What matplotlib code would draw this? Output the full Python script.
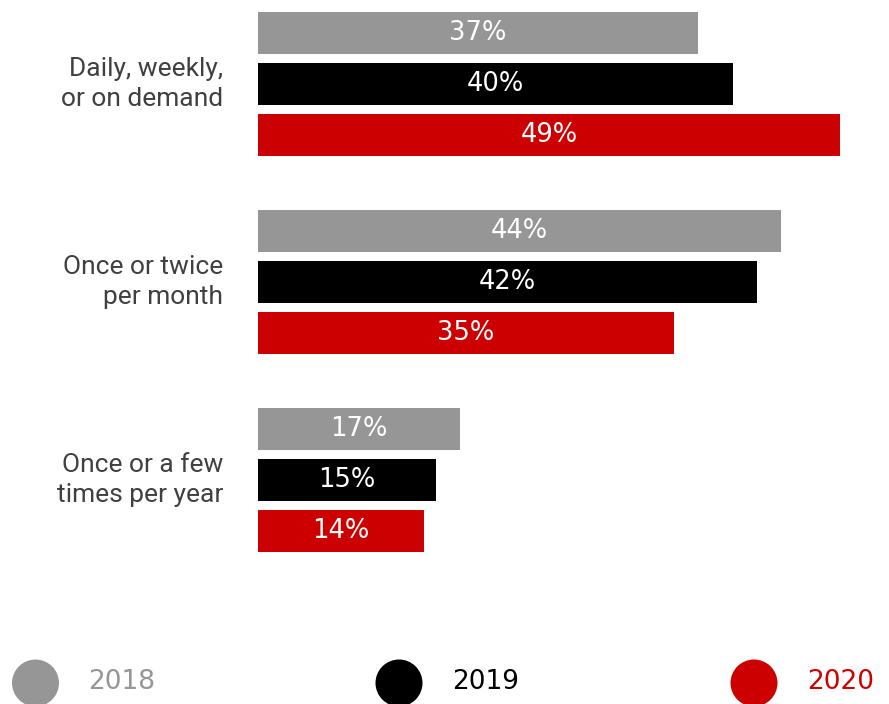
import matplotlib
matplotlib.use("Agg")
import matplotlib.pyplot as plt
from matplotlib.patches import Circle

categories = ["Daily, weekly,\nor on demand", "Once or twice\nper month", "Once or a few\ntimes per year"]
years = ["2018", "2019", "2020"]
values_2018 = [37, 44, 17]
values_2019 = [40, 42, 15]
values_2020 = [49, 35, 14]
series = [values_2018, values_2019, values_2020]
colors = ["#969696", "#000000", "#cc0000"]

W, H = 889, 704
fig = plt.figure(figsize=(W / 100, H / 100), dpi=100)
fig.patch.set_facecolor("white")

# Axes from the bar baseline to the right edge, full height
left_px = 258
ax = fig.add_axes([left_px / W, 0, 1 - left_px / W, 1])
ax.set_xlim(0, (W - left_px) / 11.88)
ax.set_ylim(3.131, -0.4242)
ax.axis("off")

offset = 51 / 198
height = 42 / 198
label_font = ["DejaVu Sans"]
for k, (vals, col) in enumerate(zip(series, colors)):
    for g, v in enumerate(vals):
        y = g + (k - 1) * offset
        ax.barh(y, v, height=height, color=col, left=0)
        ax.text(v / 2, y, f"{v}%", color="white", ha="center", va="center",
                fontsize=18.5, family=label_font)

for g, cat in enumerate(categories):
    ax.text(-35 / 11.88, g, cat, ha="right", va="center", fontsize=19,
            family=["Roboto"], color="#404040", linespacing=1.32)

# Legend: circles with year labels along the bottom
leg_x = [35.5, 399, 754]
for x, yr, col in zip(leg_x, years, colors):
    c = Circle((x / 100, 21 / 100), 23.5 / 100, transform=fig.dpi_scale_trans,
               facecolor=col, edgecolor="none")
    fig.add_artist(c)
    fig.text((x + 53) / W, 22 / H, yr, color=col, ha="left", va="center",
             fontsize=19, family=label_font)

fig.savefig("out.png", dpi=100, facecolor="white")
